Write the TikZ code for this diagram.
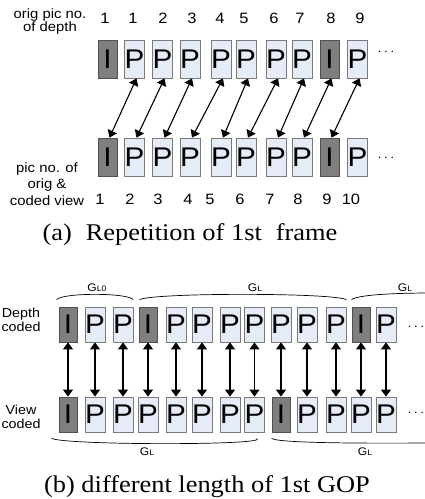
\documentclass[tikz,border=0pt]{standalone}
\usepackage{fontspec}
\setmainfont[FakeStretch=1.1]{Liberation Serif}
\setsansfont[FakeStretch=1.1]{Liberation Sans}
\usetikzlibrary{arrows.meta}
\definecolor{fillI}{HTML}{7F7F7F}
\definecolor{lineI}{HTML}{505050}
\definecolor{fillP}{HTML}{E6ECF7}
\definecolor{lineP}{HTML}{7A7A7A}
\newcommand{\fsz}[1]{\fontsize{#1}{#1}\selectfont}
\begin{document}
\begin{tikzpicture}[x=1pt, y=1pt, every node/.style={font=\sffamily\fsz{15}, inner sep=0pt},
  frm/.style={line width=0.8pt, minimum width=19pt, minimum height=38pt, font=\sffamily\fsz{27}},
  gop/.style={frm, minimum width=18pt, minimum height=35pt},
  arr/.style={{Triangle[width=10pt,length=7pt]}-{Triangle[width=10pt,length=7pt]}, line width=1.1pt},
  side/.style={align=center},
  captxt/.style={font=\rmfamily\fsz{24}, anchor=base}]
  \useasboundingbox (0,0) rectangle (425,499);
  \def\ytop{440}
  \def\ybot{342}

  % (a) repetition of the first frame
  \node[side, font=\sffamily\fontsize{13.5}{13}\selectfont] (lbltop) at (50,477.5) {orig pic no.\\of depth};
  \foreach \x/\t/\n/\nx [count=\i] in {107.5/I/1/105,134.5/P/1/133,162.5/P/2/163,190/P/3/192,221/P/4/220,246/P/5/244,276/P/6/274,302/P/7/300,329.5/I/8/331,357.5/P/9/360}{
    \node[frm, fill=fill\t, draw=line\t] (t\i) at (\x,\ytop) {\t};
    \node (tn\i) at (\nx,481) {\n};
  }
  \foreach \x/\t/\nx [count=\i] in {107.5/I/100,134.5/P/130,162.5/P/158,190/P/188,221/P/210,246/P/240,276/P/270,302/P/298,329.5/I/327,357.5/P/351}{
    \node[frm, fill=fill\t, draw=line\t] (b\i) at (\x,\ybot) {\t};
    \node (bn\i) at (\nx,300) {\i};
  }
  \foreach \i in {1,...,9}{
    \pgfmathtruncatemacro\j{\i+1}
    \draw[arr] ([xshift=2pt]b\i.north) -- ([xshift=2pt]t\j.south);
  }
  \node (moreta) at (386,447) {$\cdots$};
  \node (moreba) at (386,341) {$\cdots$};
  \node[side, font=\sffamily\fontsize{13.5}{16.5}\selectfont] (lblbot) at (47,315) {pic no. of\\orig \&\\coded view};
  \node[captxt] (capa) at (190,258) {(a)\hspace{14pt}Repetition of 1st\hspace{14pt}frame};

  % (b) different length of the first GOP
  \begin{scope}
    \node[side, font=\sffamily\fontsize{13}{14}\selectfont] (lbldepth) at (21,179) {Depth\\coded};
    \node[side, font=\sffamily\fontsize{13}{14}\selectfont] (lblview) at (21,82) {View\\coded};
    \foreach \x/\t/\s [count=\i] in {68/I/I,95/P/P,123/P/P,148/I/P,176/P/P,202/P/P,230/P/P,254.5/P/P,281/P/I,307/P/P,336/P/P,361/I/P,386/P/P}{
      \node[gop, fill=fill\t, draw=line\t] (d\i) at (\x,174.5) {\t};
      \node[gop, fill=fill\s, draw=line\s] (v\i) at (\x,84.5) {\s};
      \draw[arr] (d\i.south) -- (v\i.north);
    }
    \node (moretb) at (416,172) {$\cdots$};
    \node (morebb) at (416,86) {$\cdots$};

    \draw[line width=0.7pt] ([shift={(-2,7)}]d1.north west) .. controls +(6,7) and +(-6,7) .. ([shift={(0,7)}]d3.north east);
    \draw[line width=0.7pt] ([shift={(1,7)}]d4.north west) .. controls +(15,7) and +(-15,7) .. ([shift={(0,7)}]d11.north east);
    \draw[line width=0.7pt] ([shift={(0,7)}]d12.north west) .. controls +(8,6) and +(-20,0) .. (432,206);
    \node (gl0) at (97,211) {\fsz{11}G{\fsz{8}L0}};
    \node (gltop) at (255,211) {\fsz{11}G{\fsz{8}L}};
    \node (gltop2) at (405,211) {\fsz{11}G{\fsz{8}L}};

    \draw[line width=0.7pt] ([shift={(-7,-6)}]v1.south west) .. controls +(15,-7) and +(15,-7) .. ([shift={(-8,-6)}]v8.south east);
    \draw[line width=0.7pt] ([shift={(0,-6)}]v9.south west) .. controls +(8,-6) and +(-20,0) .. (432,56);
    \node (glbot) at (147,47) {\fsz{11}G{\fsz{8}L}};
    \node (glbot2) at (365,47) {\fsz{11}G{\fsz{8}L}};

    \node[captxt] (capb) at (207,6) {(b) different length of 1st GOP};
  \end{scope}
\end{tikzpicture}
\end{document}
